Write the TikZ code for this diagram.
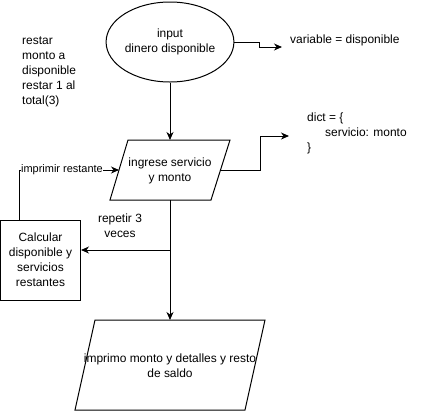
\documentclass[tikz,border=0pt]{standalone}
\usepackage{fontspec}
\setmainfont{Liberation Sans}
\usetikzlibrary{shapes.geometric,arrows.meta}
\begin{document}
\begin{tikzpicture}[x=1bp,y=-1bp,
  every node/.style={font=\fontsize{12}{15}\selectfont, inner sep=0pt},
  shapeline/.style={draw=black, line width=1bp},
  arr/.style={draw=black, line width=1bp, -{Stealth[length=8bp,width=7bp,inset=2.5bp]}},
  conn/.style={draw=black, line width=1bp},
  lbl/.style={align=center},
  small/.style={font=\fontsize{11}{13}\selectfont, fill=white, inner sep=0.5bp}]
\useasboundingbox (0,0) rectangle (426,411);

% start ellipse
\node[ellipse, shapeline, minimum width=120bp, minimum height=80bp, align=center] (input) at (170,42) {input\\dinero disponible};
\node[anchor=west] (var) at (290,40) {variable = disponible};
\coordinate (varin) at (282,47);

% left note
\node[anchor=north west, align=left] (note) at (22,37) {restar\\monto a\\disponible\\restar 1 al\\total(3)};

% parallelogram 1
\draw[shapeline] (128,140) -- (230,140) -- (211,200) -- (110,200) -- cycle;
\node[lbl] (p1) at (170,170.5) {ingrese servicio\\y monto};
\coordinate (p1n) at (170,140);
\coordinate (p1s) at (170,200);
\coordinate (p1e) at (220.5,170);
\coordinate (p1w) at (119,170);

% dict
\node[anchor=north west, align=left] (dict) at (307,113) {dict = \{\\\hspace{18bp}servicio: monto\\\}};
\coordinate (dictin) at (289,136);

% calc box
\node[shapeline, minimum width=80bp, minimum height=80bp, align=center] (calc) at (40.5,260) {Calcular\\disponible y\\servicios\\restantes};

% repetir label
\node[lbl] (rep) at (120,225.5) {repetir 3\\veces};

% parallelogram 2
\draw[shapeline] (95,320) -- (265,320) -- (245,410) -- (75,410) -- cycle;
\node[lbl] (p2) at (170,365.5) {imprimo monto y detalles y resto\\de saldo};
\coordinate (p2n) at (170,320);

% connectors
\draw[arr] (input.east) -- ++(25,0) |- (varin);
\draw[arr] (input.south) -- (p1n);
\draw[arr] (p1e) -- ++(40,0) |- (dictin);
\draw[arr] ([xshift=-20.5bp]calc.north) |- (p1w) node[small, pos=0.712] (imp) {imprimir restante};
\draw[arr] (p1s) -- (p2n);
\coordinate (br) at (170,250);
\draw[arr] (br) -- (calc.east |- br);
\end{tikzpicture}
\end{document}
